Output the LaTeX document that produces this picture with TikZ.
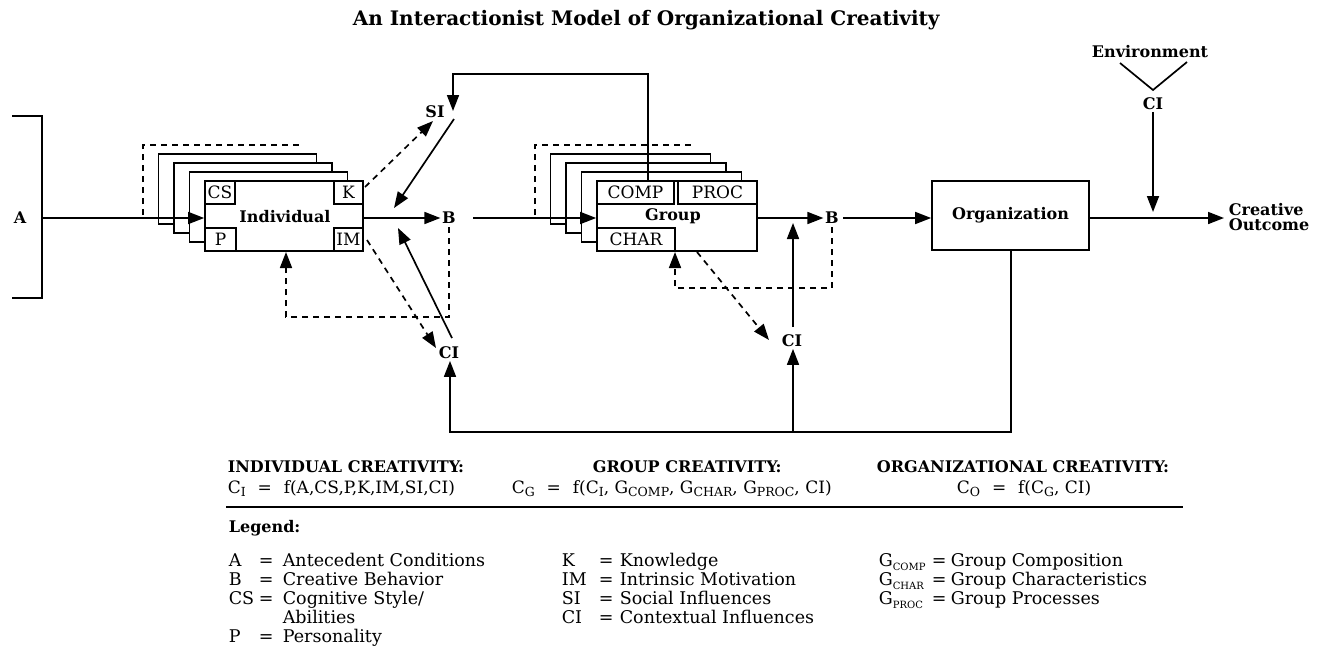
\documentclass[tikz,border=0pt]{standalone}
\usepackage{fontspec}
\setmainfont{DejaVu Serif}
\usetikzlibrary{arrows.meta}
\newcommand\sbs[1]{\raisebox{-0.45ex}{\fontsize{12.5}{12.5}\selectfont #1}}
\newcommand\lsbs[1]{\raisebox{-0.45ex}{\fontsize{10}{10}\selectfont #1}}
\newcommand\eqs{\hspace{0.7em}=\hspace{0.7em}}
\begin{document}
\begin{tikzpicture}[x=1pt,y=-1pt,
  line width=1.7pt,
  tip/.style={-{Triangle[length=16pt,width=12pt]}},
  dsh/.style={dash pattern=on 6pt off 5pt},
  bigbox/.style={draw, fill=white, minimum width=158pt, minimum height=70pt, inner sep=0pt},
  backbox/.style={draw, fill=white, minimum width=158pt, minimum height=70pt, inner sep=0pt},
  sub/.style={draw, fill=white, inner sep=0pt, font=\fontsize{17}{17}\selectfont},
  lbl/.style={font=\bfseries\fontsize{16}{16}\selectfont, inner sep=1pt},
  head/.style={font=\bfseries\fontsize{16}{16}\selectfont, inner sep=0pt, anchor=base west},
  form/.style={font=\fontsize{17}{17}\selectfont, inner sep=0pt, anchor=base west},
  leg/.style={font=\fontsize{17.5}{17.5}\selectfont, inner sep=0pt, anchor=base west}
]
\useasboundingbox (0,0) rectangle (1322,646);

% title
\node[font=\bfseries\fontsize{20}{20}\selectfont, anchor=west, inner sep=0pt] (title) at (352,20) {An Interactionist Model of Organizational Creativity};

% A bracket
\draw (12,116) -- (42,116) -- (42,298) -- (12,298);
\node[lbl] (A) at (20,218) {A};
\coordinate (abr) at (42,218);

% Individual stack
\draw[dsh] (143,215) -- (143,145) -- (302,145);
\node[backbox] (ind3) at (237.5,189) {};
\node[backbox] (ind2) at (253,198) {};
\node[backbox] (ind1) at (268.5,207) {};
\node[bigbox] (ind) at (284,216) {};
\node[lbl] (indl) at (285,217) {Individual};
\node[sub, minimum width=30pt, minimum height=23pt] (CS) at (220,192.5) {CS};
\node[sub, minimum width=29pt, minimum height=23pt] (K) at (348.5,192.5) {K};
\node[sub, minimum width=31pt, minimum height=23pt] (P) at (220.5,239.5) {P};
\node[sub, minimum width=29pt, minimum height=23pt] (IM) at (348.5,239.5) {IM};

% Group stack
\draw[dsh] (535,215) -- (535,145) -- (695,145);
\node[backbox, minimum width=160pt] (grp3) at (630.5,189) {};
\node[backbox, minimum width=160pt] (grp2) at (646,198) {};
\node[backbox, minimum width=160pt] (grp1) at (661.5,207) {};
\node[bigbox, minimum width=160pt] (grp) at (677,216) {};
\node[lbl] (grpl) at (673,216) {Group};
\node[sub, minimum width=77pt, minimum height=23pt] (COMP) at (635.5,192.5) {COMP};
\node[sub, minimum width=79pt, minimum height=23pt] (PROC) at (717.5,192.5) {PROC};
\node[sub, minimum width=78pt, minimum height=23pt] (CHAR) at (636,239.5) {CHAR};

% Organization
\node[draw, minimum width=157pt, minimum height=69pt, inner sep=0pt, font=\bfseries\fontsize{16}{16}\selectfont] (org) at (1010.5,215.5) {Organization};

% labels
\node[lbl] (B1) at (449,218) {B};
\node[lbl] (B2) at (832,218) {B};
\node[lbl] (SI) at (435,112) {SI};
\node[lbl] (CI1) at (449,353) {CI};
\node[lbl] (CI2) at (792,341) {CI};
\node[lbl] (env) at (1150,52) {Environment};
\node[lbl] (CIe) at (1153,104) {CI};
\node[lbl, align=left, anchor=west, inner sep=0pt] (out) at (1228,217) {Creative\\[-1pt]Outcome};

% main flow
\draw[tip] (abr) -- (ind.west |- abr);
\draw[tip] (ind.east |- B1) -- (B1.west);
\coordinate (gin) at (473,218);
\draw[tip] (gin) -- (grp.west |- gin);
\draw[tip] (grp.east |- gin) -- (B2.west);
\coordinate (bout) at (843,218);
\draw[tip] (bout) -- (org.west |- bout);
\coordinate (co) at (1224,218);
\draw[tip] (org.east |- co) -- (co);

% environment
\coordinate (ev1) at (1120,63);
\coordinate (ev2) at (1153,90);
\coordinate (ev3) at (1187,62);
\draw (ev1) -- (ev2) -- (ev3);
\coordinate (evtip) at (1153,212);
\draw[tip] (CIe.south) -- (evtip);

% SI feedback from group
\coordinate (fb1) at (648,181);
\coordinate (fb2) at (648,74);
\coordinate (fb3) at (453,74);
\coordinate (fb4) at (453,111);
\draw[tip] (fb1) -- (fb2) -- (fb3) -- (fb4);
\coordinate (si1) at (454,119);
\coordinate (si2) at (394,208);
\draw[tip] (si1) -- (si2);
\coordinate (k1) at (365,187);
\coordinate (k2) at (433,121);
\draw[tip, dsh] (k1) -- (k2);

% CI1 influences
\coordinate (im1) at (367,240);
\coordinate (im2) at (436,348);
\draw[tip, dsh] (im1) -- (im2);
\coordinate (ci1a) at (452,338);
\coordinate (ci1b) at (398,228);
\draw[tip] (ci1a) -- (ci1b);
\coordinate (l1a) at (449,227);
\coordinate (l1b) at (449,317);
\coordinate (l1c) at (286,317);
\coordinate (l1d) at (286,252);
\draw[tip, dsh] (l1a) -- (l1b) -- (l1c) -- (l1d);

% group influences
\coordinate (ch1) at (697,252);
\coordinate (ch2) at (769,340);
\draw[tip, dsh] (ch1) -- (ch2);
\coordinate (c2a) at (793,327);
\coordinate (c2b) at (793,223);
\draw[tip] (c2a) -- (c2b);
\coordinate (l2a) at (832,227);
\coordinate (l2b) at (832,288);
\coordinate (l2c) at (675,288);
\coordinate (l2d) at (675,252);
\draw[tip, dsh] (l2a) -- (l2b) -- (l2c) -- (l2d);

% bottom return line
\coordinate (bt1) at (1011,432);
\coordinate (bt2) at (450,432);
\coordinate (bt3) at (793,432);
\draw[tip] (org.south -| bt1) -- (bt1) -- (bt2) -- (CI1.south -| bt2);
\draw[tip] (bt3) -- (CI2.south -| bt3);

% formulas
\node[head] (h1) at (227,472) {INDIVIDUAL CREATIVITY:};
\node[head] (h2) at (592,472) {GROUP CREATIVITY:};
\node[head] (h3) at (876,472) {ORGANIZATIONAL CREATIVITY:};
\node[form] (f1) at (227,493) {C\sbs{I}\eqs f(A,CS,P,K,IM,SI,CI)};
\node[form] (f2) at (511,493) {C\sbs{G}\eqs f(C\sbs{I}, G\sbs{COMP}, G\sbs{CHAR}, G\sbs{PROC}, CI)};
\node[form] (f3) at (956,493) {C\sbs{O}\eqs f(C\sbs{G}, CI)};
\coordinate (r1) at (226,507);
\coordinate (r2) at (1183,507);
\draw[line width=2pt] (r1) -- (r2);

% legend
\node[head] (lg) at (228,532) {Legend:};
\node[leg] (la) at (228,566) {A};
\node[leg] (lae) at (258,566) {=};
\node[leg] (lat) at (282,566) {Antecedent Conditions};
\node[leg] (lb) at (228,585) {B};
\node[leg] (lbe) at (258,585) {=};
\node[leg] (lbt) at (282,585) {Creative Behavior};
\node[leg] (lc) at (228,604) {CS};
\node[leg] (lce) at (258,604) {=};
\node[leg] (lct) at (282,604) {Cognitive Style/};
\node[leg] (lct2) at (282,623) {Abilities};
\node[leg] (lp) at (228,642) {P};
\node[leg] (lpe) at (258,642) {=};
\node[leg] (lpt) at (282,642) {Personality};

\node[leg] (lk) at (561,566) {K};
\node[leg] (lke) at (598,566) {=};
\node[leg] (lkt) at (619,566) {Knowledge};
\node[leg] (li) at (561,585) {IM};
\node[leg] (lie) at (598,585) {=};
\node[leg] (lit) at (619,585) {Intrinsic Motivation};
\node[leg] (ls) at (561,604) {SI};
\node[leg] (lse) at (598,604) {=};
\node[leg] (lst) at (619,604) {Social Influences};
\node[leg] (lci) at (561,623) {CI};
\node[leg] (lcie) at (598,623) {=};
\node[leg] (lcit) at (619,623) {Contextual Influences};

\node[leg] (lg1) at (878,566) {G\lsbs{COMP}};
\node[leg] (lg1e) at (931,566) {=};
\node[leg] (lg1t) at (950,566) {Group Composition};
\node[leg] (lg2) at (878,585) {G\lsbs{CHAR}};
\node[leg] (lg2e) at (931,585) {=};
\node[leg] (lg2t) at (950,585) {Group Characteristics};
\node[leg] (lg3) at (878,604) {G\lsbs{PROC}};
\node[leg] (lg3e) at (931,604) {=};
\node[leg] (lg3t) at (950,604) {Group Processes};
\end{tikzpicture}
\end{document}
